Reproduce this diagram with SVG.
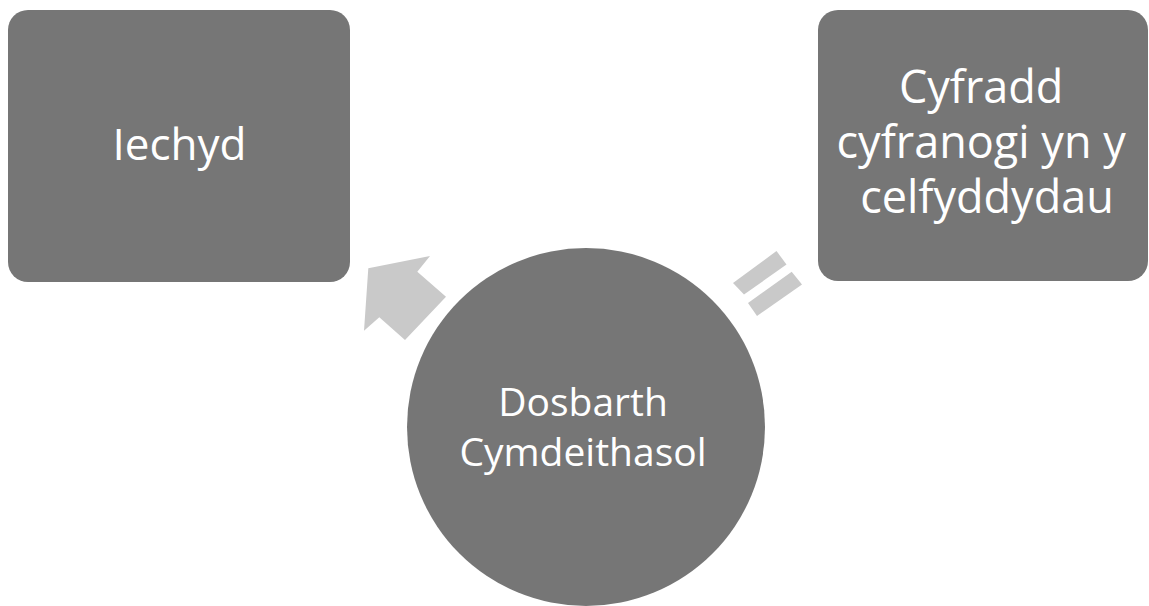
<svg xmlns="http://www.w3.org/2000/svg" width="1149" height="606" viewBox="0 0 1149 606">
  <style>
    .node { fill: #767676; }
    .lbl { font-family: "Open Sans", "Liberation Sans", sans-serif; fill: #ffffff; text-anchor: middle; }
    .conn { fill: #c9c9c9; }
  </style>
  <rect x="0" y="0" width="1149" height="606" fill="#ffffff"/>
  <g id="connectors">
    <polygon id="arrow" class="conn" points="368.3,268.3 430,256 417.3,271.7 446,296.7 405,340 379.3,317.3 364,330.7"/>
    <g id="equals">
      <polygon class="conn" points="733,283 776.5,251 786.5,264.5 744,294.5"/>
      <polygon class="conn" points="748,303 791.7,271.7 802,284.5 757,316"/>
    </g>
  </g>
  <g id="node-iechyd">
    <rect class="node" x="8" y="10" width="342" height="272" rx="20" ry="20"/>
    <text class="lbl" x="179.5" y="160" font-size="44">Iechyd</text>
  </g>
  <g id="node-cyfradd">
    <rect class="node" x="818" y="10" width="330" height="271" rx="20" ry="20"/>
    <text class="lbl" font-size="45">
      <tspan x="987" y="103">Cyfradd</tspan>
      <tspan x="987" y="158">cyfranogi yn y</tspan>
      <tspan x="987" y="213">celfyddydau</tspan>
    </text>
  </g>
  <g id="node-dosbarth">
    <circle class="node" cx="586" cy="427" r="179"/>
    <text class="lbl" x="583" y="416" font-size="39">Dosbarth</text>
    <text class="lbl" x="583" y="466" font-size="39">Cymdeithasol</text>
  </g>
</svg>
